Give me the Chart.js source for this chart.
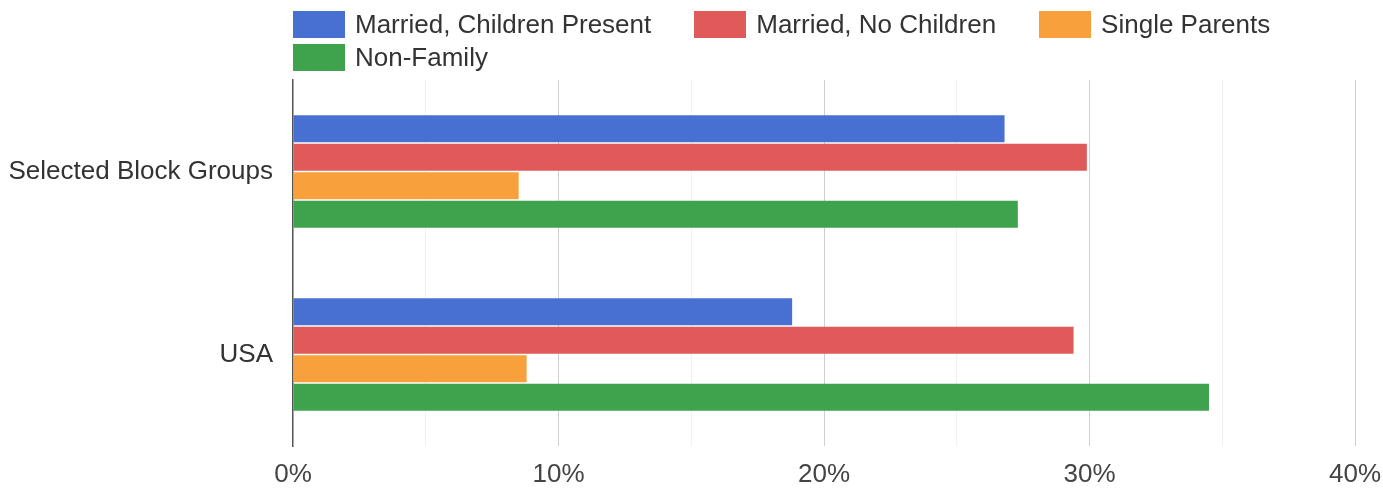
<!DOCTYPE html>
<html>
<head>
<meta charset="utf-8">
<script src="https://cdn.jsdelivr.net/npm/chart.js@4/dist/chart.umd.min.js"></script>
<style>
  body { margin: 0; background: #fff; }
  #wrap { position: relative; width: 1383px; height: 491px; }
  #legend {
    position: absolute; top: 11px; width: 1064px;
    display: flex; flex-wrap: wrap; column-gap: 43px; row-gap: 6px;
    font-family: "Liberation Sans", Arial, sans-serif; font-size: 26px; color: #333;
  }
  #legend .item { display: flex; align-items: center; height: 27px; white-space: nowrap; }
  #legend .box { width: 52px; height: 27px; margin-right: 10px; }
</style>
</head>
<body>
<div id="wrap">
  <canvas id="barChart" width="1383" height="491"></canvas>
  <div id="legend"></div>
</div>
<script>
const categories = ['Selected Block Groups', 'USA'];
const seriesNames = ['Married, Children Present', 'Married, No Children', 'Single Parents', 'Non-Family'];
const seriesColors = ['#4770d2', '#e05a5a', '#f7a03c', '#3fa34d'];
const marriedChildren = [26.8, 18.8];
const marriedNoChildren = [29.9, 29.4];
const singleParents = [8.5, 8.8];
const nonFamily = [27.3, 34.5];
const xTicks = [0, 10, 20, 30, 40];

const values = [marriedChildren, marriedNoChildren, singleParents, nonFamily];

// html legend, lined up with the plot area
const htmlLegend = {
    id: 'htmlLegend',
    afterUpdate(chart) {
        const el = document.getElementById('legend');
        el.style.left = chart.chartArea.left + 'px';
        el.innerHTML = '';
        chart.data.datasets.forEach(ds => {
            const item = document.createElement('div');
            item.className = 'item';
            const box = document.createElement('span');
            box.className = 'box';
            box.style.background = ds.backgroundColor;
            const txt = document.createElement('span');
            txt.textContent = ds.label;
            item.appendChild(box);
            item.appendChild(txt);
            el.appendChild(item);
        });
    }
};

Chart.defaults.font.family = '"Liberation Sans", Arial, sans-serif';
Chart.defaults.font.size = 26;

const ctx = document.getElementById('barChart').getContext('2d');
new Chart(ctx, {
    type: 'bar',
    data: {
        labels: categories,
        datasets: seriesNames.map((name, i) => ({
            label: name,
            data: values[i],
            backgroundColor: seriesColors[i],
            categoryPercentage: 0.623,
            barPercentage: 0.95
        }))
    },
    options: {
        indexAxis: 'y',
        responsive: false,
        animation: false,
        layout: { padding: { top: 80, right: 0, bottom: 0, left: 0 } },
        plugins: {
            legend: { display: false },
            tooltip: { enabled: false }
        },
        scales: {
            x: {
                min: 0,
                max: 40,
                afterFit: s => { s.height = 45; s.paddingRight = 28; },
                ticks: {
                    stepSize: 5,
                    padding: 13,
                    color: '#444',
                    maxRotation: 0,
                    autoSkip: false,
                    callback: v => xTicks.includes(v) ? v + '%' : ''
                },
                grid: {
                    drawTicks: false,
                    color: c => c.tick.value === 0 ? 'rgba(0,0,0,0)' : (c.tick.value % 10 === 0 ? '#cfcfcf' : '#f1f1f1')
                },
                border: { display: false }
            },
            y: {
                afterFit: s => { s.width = 293; },
                ticks: { padding: 20, color: '#333' },
                grid: { display: false, drawTicks: false },
                border: { display: true, color: '#555', width: 1.5 }
            }
        }
    },
    plugins: [htmlLegend]
});
</script>
</body>
</html>
